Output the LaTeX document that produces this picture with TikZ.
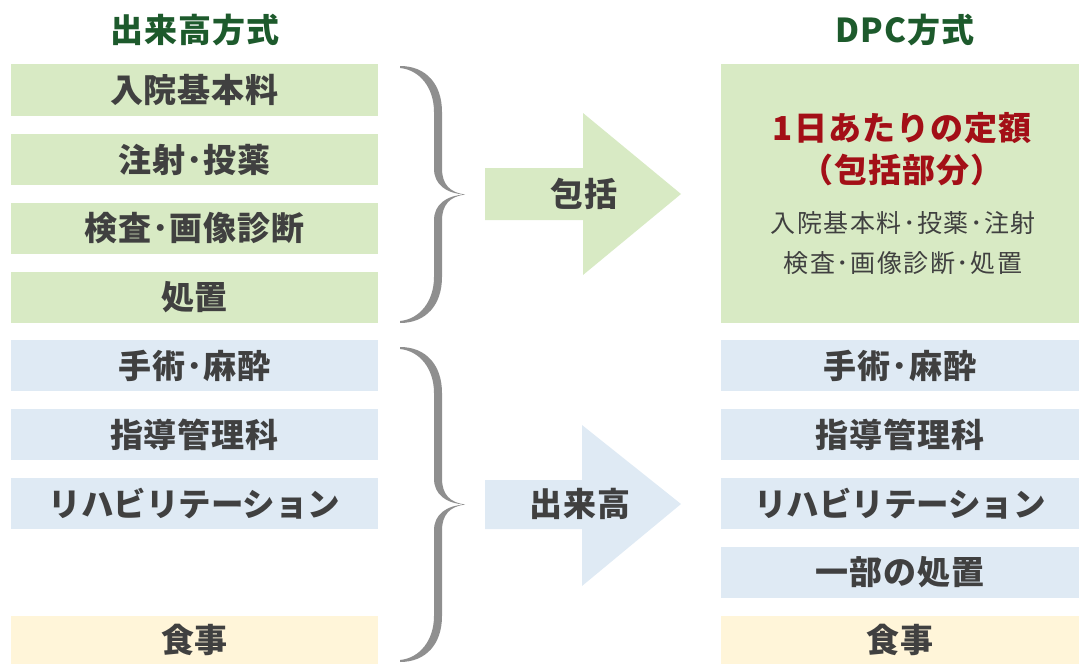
\documentclass[tikz,border=0pt]{standalone}
\usepackage{fontspec}
\setmainfont{Noto Sans CJK JP}
\newfontfamily\jpsp[LetterSpace=3]{Noto Sans CJK JP}
\newfontfamily\jpsm[LetterSpace=6]{Noto Sans CJK JP}
\begin{document}
\begin{tikzpicture}[x=1pt,y=-1pt,
  box/.style={inner sep=0pt, outer sep=0pt, text=txtgray, font=\jpsp\fontsize{33}{36}\selectfont\bfseries},
  kata/.style={font=\fontsize{32.5}{36}\selectfont\bfseries},
  gbox/.style={box, fill=boxgreen},
  bbox/.style={box, fill=boxblue},
  ybox/.style={box, fill=boxyellow},
  lw/.style={minimum width=367pt, minimum height=51.5pt},
  rw/.style={minimum width=358pt, minimum height=51.5pt},
  head/.style={text=headgreen, font=\jpsp\fontsize{33}{36}\selectfont\bfseries},
  redt/.style={text=redtxt, font=\jpsp\fontsize{33}{36}\selectfont\bfseries},
  smallt/.style={text=txtgray, font=\jpsm\fontsize{25}{28}\selectfont},
  arrlabel/.style={text=txtgray, font=\jpsp\fontsize{33}{36}\selectfont\bfseries}]
\definecolor{boxgreen}{HTML}{D8EAC4}
\definecolor{boxblue}{HTML}{DFEAF4}
\definecolor{boxyellow}{HTML}{FFF5D9}
\definecolor{txtgray}{HTML}{404040}
\definecolor{headgreen}{HTML}{1D5A2C}
\definecolor{redtxt}{HTML}{A30F17}
\definecolor{bracecol}{HTML}{8F8F8F}
\useasboundingbox (0,0) rectangle (1079,664);
% headings
\node[head] (hl) at (195,30) {出来高方式};
\node[head] (hr) at (905,30) {DPC方式};
% left column
\node[gbox,lw] (l1) at (194.5,90) {入院基本料};
\node[gbox,lw] (l2) at (194.5,159.5) {注射･投薬};
\node[gbox,lw] (l3) at (194.5,228.5) {検査･画像診断};
\node[gbox,lw] (l4) at (194.5,297.5) {処置};
\node[bbox,lw] (l5) at (194.5,365.5) {手術･麻酔};
\node[bbox,lw] (l6) at (194.5,434.5) {指導管理科};
\node[bbox,lw,kata] (l7) at (194.5,503.5) {リハビリテーション};
\node[ybox,minimum width=367pt,minimum height=48pt] (l8) at (194.5,640) {食事};
% right column
\node[fill=boxgreen,inner sep=0pt,minimum width=358pt,minimum height=259pt] (rbig) at (900,193.5) {};
\node[redt] (rt1) at (902,128) {1日あたりの定額};
\node[redt] (rt2) at (902,170) {（包括部分）};
\node[smallt] (rt3) at (903,223) {入院基本料･投薬･注射};
\node[smallt] (rt4) at (903,263) {検査･画像診断･処置};
\node[bbox,rw] (r5) at (900,365.5) {手術･麻酔};
\node[bbox,rw] (r6) at (900,434.5) {指導管理科};
\node[bbox,rw,kata] (r7) at (900,503.5) {リハビリテーション};
\node[bbox,rw] (r8) at (900,572.5) {一部の処置};
\node[ybox,minimum width=358pt,minimum height=48pt] (r9) at (900,640) {食事};
% arrows
\fill[boxgreen] (485,168) -- (583,168) -- (583,113) -- (681,194) -- (583,275) -- (583,220) -- (485,220) -- cycle;
\node[arrlabel] (a1) at (584,194) {包括};
\fill[boxblue] (485,480) -- (582,480) -- (582,425) -- (681,504) -- (582,586) -- (582,529) -- (485,529) -- cycle;
\node[arrlabel] (a2) at (580,504) {出来高};
% braces
\foreach \bt/\bb in {66/323, 347/662}{
  \pgfmathsetmacro\bm{(\bt+\bb)/2}
  \fill[bracecol]
    (400,\bt) .. controls (426,\bt) and (442,\bt+18) .. (442,\bt+46)
    -- (442,\bm-26) .. controls (442,\bm-10) and (450,\bm-2) .. (465,\bm)
    .. controls (450,\bm+2) and (442,\bm+10) .. (442,\bm+26)
    -- (442,\bb-46) .. controls (442,\bb-18) and (426,\bb) .. (400,\bb)
    -- (400,\bb-2) .. controls (420,\bb-4) and (434,\bb-22) .. (434,\bb-46)
    -- (434,\bm+26) .. controls (434,\bm+10) and (446,\bm+1) .. (465,\bm)
    .. controls (446,\bm-1) and (434,\bm-10) .. (434,\bm-26)
    -- (434,\bt+46) .. controls (434,\bt+22) and (420,\bt+4) .. (400,\bt+2) -- cycle;
}
\end{tikzpicture}
\end{document}
